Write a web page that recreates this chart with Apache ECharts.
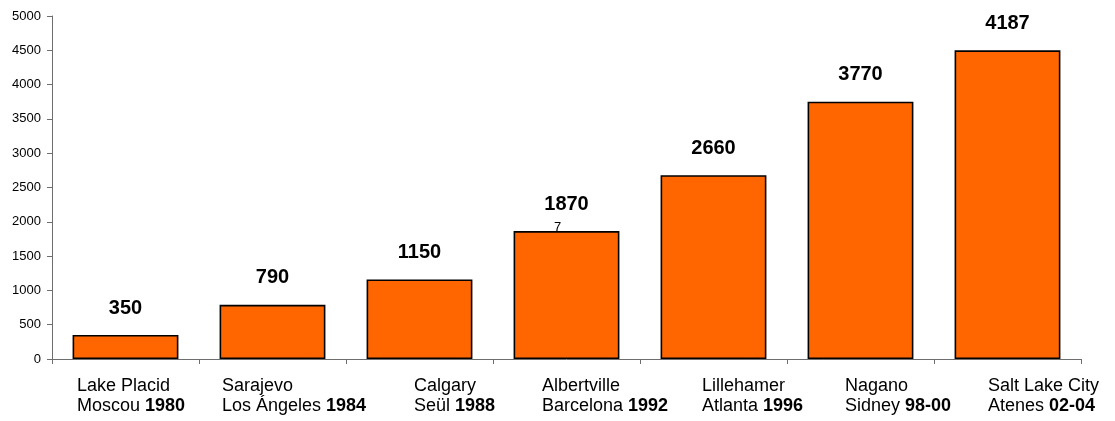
<!DOCTYPE html>
<html><head><meta charset="utf-8">
<script src="https://cdn.jsdelivr.net/npm/echarts@6/dist/echarts.min.js"></script>
<style>html,body{margin:0;padding:0;background:#fff}#c{width:1115px;height:421px}</style>
</head><body><div id="c"></div>
<script>
// ---- data ----
const cityLine1 = ['Lake Placid', 'Sarajevo', 'Calgary', 'Albertville', 'Lillehamer', 'Nagano', 'Salt Lake City'];
const cityLine2 = ['Moscou', 'Los Ángeles', 'Seül', 'Barcelona', 'Atlanta', 'Sidney', 'Atenes'];
const years = ['1980', '1984', '1988', '1992', '1996', '98-00', '02-04'];
const barValues = [350, 790, 1160, 1865, 2680, 3750, 4500];
const valueLabels = ['350', '790', '1150', '1870', '2660', '3770', '4187'];
const yMin = 0, yMax = 5000, yStep = 500;
const strayLabel = '7';
const strayLabelIndex = 3;

// ---- style (label indentation inside each category slot, px) ----
const labelIndent = [25, 23, 68, 49, 62, 58, 54];
const FONT = '"Liberation Sans", Arial, sans-serif';

const chart = echarts.init(document.getElementById('c'), null, { renderer: 'canvas' });
const catIdx = cityLine1.map((_, i) => i);

chart.setOption({
  animation: false,
  backgroundColor: '#fff',
  grid: { left: 52, right: 34, top: 16, bottom: 62, containLabel: false },
  xAxis: {
    type: 'category',
    data: catIdx,
    boundaryGap: true,
    axisLine: { show: true, lineStyle: { color: '#6e6e6e', width: 1 } },
    axisTick: { show: true, length: 5, lineStyle: { color: '#6e6e6e' } },
    axisLabel: { show: false },
    splitLine: { show: false }
  },
  yAxis: {
    type: 'value',
    min: yMin, max: yMax, interval: yStep,
    axisLine: { show: true, lineStyle: { color: '#6e6e6e', width: 1 } },
    axisTick: { show: true, length: 5, lineStyle: { color: '#6e6e6e' } },
    axisLabel: { color: '#000', fontSize: 13, fontFamily: FONT, margin: 11, formatter: v => String(v) },
    splitLine: { show: false }
  },
  series: [
    {
      type: 'bar',
      data: barValues,
      barCategoryGap: '28%',
      itemStyle: { color: '#FF6600', borderColor: '#000', borderWidth: 1.6 },
      label: {
        show: true, position: 'top', distance: 17,
        formatter: p => valueLabels[p.dataIndex],
        color: '#000', fontSize: 20, fontWeight: 'bold', fontFamily: FONT
      },
      markPoint: {
        symbol: 'circle', symbolSize: 0,
        data: [{
          coord: [strayLabelIndex, barValues[strayLabelIndex]],
          label: {
            show: true, position: 'inside', formatter: strayLabel,
            offset: [-9, -4], color: '#000', fontSize: 13, fontFamily: FONT
          }
        }]
      }
    },
    {
      type: 'custom',
      clip: false,
      silent: true,
      z: 10,
      data: catIdx.map(i => [i, 0]),
      encode: { x: 0, y: 1 },
      renderItem: function (params, api) {
        const i = api.value(0);
        const p = api.coord([i, 0]);
        const w = api.size([1, 0])[0];
        const x0 = p[0] - w / 2 + labelIndent[i];
        return {
          type: 'text',
          x: x0,
          y: p[1] + 17,
          style: {
            text: cityLine1[i] + '\n' + cityLine2[i] + ' {b|' + years[i] + '}',
            fill: '#000', fontSize: 18, fontFamily: FONT, lineHeight: 20,
            align: 'left', verticalAlign: 'top',
            rich: { b: { fontWeight: 'bold', fontSize: 18, fontFamily: FONT, lineHeight: 20, fill: '#000' } }
          }
        };
      }
    }
  ]
});
</script></body></html>
